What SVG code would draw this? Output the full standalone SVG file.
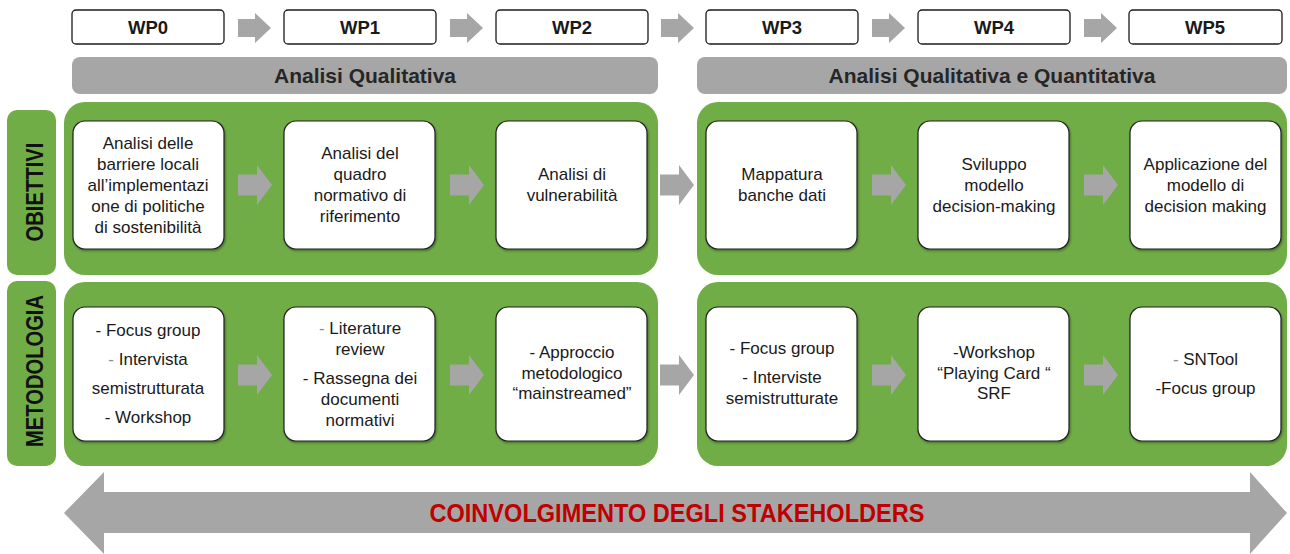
<svg xmlns="http://www.w3.org/2000/svg" width="1290" height="554" viewBox="0 0 1290 554">
<style>
.wp{fill:#fff;stroke:#1a1a1a;stroke-width:1.3}
.wpt{font-family:"Liberation Sans",Arial,sans-serif;font-weight:bold;font-size:18.5px;fill:#1a1a1a;text-anchor:middle}
.bar{fill:#A6A6A6}
.bart{font-family:"Liberation Sans",Arial,sans-serif;font-weight:bold;font-size:21px;fill:#262626;text-anchor:middle}
.grn{fill:#70AD47}
.lbl{font-family:"Liberation Sans",Arial,sans-serif;font-weight:bold;font-size:24px;fill:#111;text-anchor:middle}
.box{fill:#fff;stroke:#1f1f1f;stroke-width:1.2;filter:url(#sh)}
.t{font-family:"Liberation Sans",Arial,sans-serif;font-size:17px;fill:#1a1a1a;text-anchor:middle}
.d{fill:#8c8c8c}
.arr{fill:#A6A6A6}
.big{font-family:"Liberation Sans",Arial,sans-serif;font-weight:bold;font-size:26px;fill:#C00000;text-anchor:middle}
</style>
<defs>
<filter id="sh" x="-5%" y="-5%" width="115%" height="115%">
<feDropShadow dx="1" dy="1.5" stdDeviation="1" flood-color="#000" flood-opacity="0.35"/>
</filter>
<path id="a1" d="M0,-10.5 H19 V-20 L34,0 L19,20 V10.5 H0 Z"/>
<path id="a0" d="M0,-9 H17 V-15 L33,0 L17,15 V9 H0 Z"/>
</defs>

<g id="wp-row">
<g id="wp0"><rect class="wp" x="72" y="10" width="152" height="34" rx="4"/><text class="wpt" x="148" y="34">WP0</text></g>
<g id="wp1"><rect class="wp" x="284" y="10" width="152" height="34" rx="4"/><text class="wpt" x="360" y="34">WP1</text></g>
<g id="wp2"><rect class="wp" x="496" y="10" width="152" height="34" rx="4"/><text class="wpt" x="572" y="34">WP2</text></g>
<g id="wp3"><rect class="wp" x="706" y="10" width="152" height="34" rx="4"/><text class="wpt" x="782" y="34">WP3</text></g>
<g id="wp4"><rect class="wp" x="918" y="10" width="152" height="34" rx="4"/><text class="wpt" x="994" y="34">WP4</text></g>
<g id="wp5"><rect class="wp" x="1129" y="10" width="153" height="34" rx="4"/><text class="wpt" x="1205" y="34">WP5</text></g>
</g>

<g id="phase-qual"><rect class="bar" x="72" y="57" width="586" height="37" rx="8"/><text class="bart" x="365" y="83">Analisi Qualitativa</text></g>
<g id="phase-quant"><rect class="bar" x="697" y="57" width="590" height="37" rx="8"/><text class="bart" x="992" y="83">Analisi Qualitativa e Quantitativa</text></g>

<g id="label-obiettivi"><rect class="grn" x="7" y="110" width="49" height="165" rx="10"/><text class="lbl" transform="translate(43,192) rotate(-90)" x="0" y="0" textLength="99" lengthAdjust="spacingAndGlyphs">OBIETTIVI</text></g>
<g id="label-metodologia"><rect class="grn" x="7" y="281" width="49" height="185" rx="10"/><text class="lbl" transform="translate(43,371) rotate(-90)" x="0" y="0" textLength="152" lengthAdjust="spacingAndGlyphs">METODOLOGIA</text></g>

<g id="containers">
<rect class="grn" x="64" y="102" width="594" height="173" rx="21"/>
<rect class="grn" x="697" y="102" width="590" height="173" rx="21"/>
<rect class="grn" x="64" y="282" width="594" height="184" rx="21"/>
<rect class="grn" x="697" y="282" width="590" height="184" rx="21"/>
</g>

<g id="obj-wp0"><rect class="box" x="73" y="121" width="151" height="128" rx="12"/>
<text class="t"><tspan x="148" y="149">Analisi delle</tspan><tspan x="148" y="170">barriere locali</tspan><tspan x="148" y="191">all’implementazi</tspan><tspan x="148" y="212">one di politiche</tspan><tspan x="148" y="233">di sostenibilità</tspan></text></g>
<g id="obj-wp1"><rect class="box" x="284" y="121" width="151" height="128" rx="12"/>
<text class="t"><tspan x="360" y="159">Analisi del</tspan><tspan x="360" y="180">quadro</tspan><tspan x="360" y="201">normativo di</tspan><tspan x="360" y="222">riferimento</tspan></text></g>
<g id="obj-wp2"><rect class="box" x="496" y="121" width="151" height="128" rx="12"/>
<text class="t"><tspan x="572" y="180">Analisi di</tspan><tspan x="572" y="201">vulnerabilità</tspan></text></g>
<g id="obj-wp3"><rect class="box" x="706" y="121" width="151" height="128" rx="12"/>
<text class="t"><tspan x="782" y="180">Mappatura</tspan><tspan x="782" y="201">banche dati</tspan></text></g>
<g id="obj-wp4"><rect class="box" x="918" y="121" width="151" height="128" rx="12"/>
<text class="t"><tspan x="994" y="170">Sviluppo</tspan><tspan x="994" y="191">modello</tspan><tspan x="994" y="212">decision-making</tspan></text></g>
<g id="obj-wp5"><rect class="box" x="1130" y="121" width="151" height="128" rx="12"/>
<text class="t"><tspan x="1205.5" y="170">Applicazione del</tspan><tspan x="1205.5" y="191">modello di</tspan><tspan x="1205.5" y="212">decision making</tspan></text></g>

<g id="met-wp0"><rect class="box" x="73" y="307" width="151" height="134" rx="12"/>
<text class="t"><tspan x="148" y="336">- Focus group</tspan><tspan x="148" y="365"><tspan class="d">-</tspan> Intervista</tspan><tspan x="148" y="394">semistrutturata</tspan><tspan x="148" y="423">- Workshop</tspan></text></g>
<g id="met-wp1"><rect class="box" x="284" y="307" width="151" height="134" rx="12"/>
<text class="t"><tspan x="360" y="334"><tspan class="d">-</tspan> Literature</tspan><tspan x="360" y="355">review</tspan><tspan x="360" y="384">- Rassegna dei</tspan><tspan x="360" y="405">documenti</tspan><tspan x="360" y="426">normativi</tspan></text></g>
<g id="met-wp2"><rect class="box" x="496" y="307" width="151" height="134" rx="12"/>
<text class="t"><tspan x="572" y="358">- Approccio</tspan><tspan x="572" y="379">metodologico</tspan><tspan x="572" y="399">“mainstreamed”</tspan></text></g>
<g id="met-wp3"><rect class="box" x="706" y="307" width="151" height="134" rx="12"/>
<text class="t"><tspan x="782" y="354">- Focus group</tspan><tspan x="782" y="383">- Interviste</tspan><tspan x="782" y="404">semistrutturate</tspan></text></g>
<g id="met-wp4"><rect class="box" x="918" y="307" width="151" height="134" rx="12"/>
<text class="t"><tspan x="994" y="358">-Workshop</tspan><tspan x="994" y="379">“Playing Card “</tspan><tspan x="994" y="399">SRF</tspan></text></g>
<g id="met-wp5"><rect class="box" x="1130" y="307" width="151" height="134" rx="12"/>
<text class="t"><tspan x="1205.5" y="365"><tspan class="d">-</tspan> SNTool</tspan><tspan x="1205.5" y="394">-Focus group</tspan></text></g>

<g id="connectors" class="arr">
<use href="#a0" x="238" y="28"/>
<use href="#a0" x="450" y="28"/>
<use href="#a0" x="661" y="28"/>
<use href="#a0" x="872" y="28"/>
<use href="#a0" x="1084" y="28"/>
<use href="#a1" x="238" y="185"/>
<use href="#a1" x="450" y="185"/>
<use href="#a1" x="660" y="185"/>
<use href="#a1" x="872" y="185"/>
<use href="#a1" x="1084" y="185"/>
<use href="#a1" x="238" y="375"/>
<use href="#a1" x="450" y="375"/>
<use href="#a1" x="660" y="375"/>
<use href="#a1" x="872" y="375"/>
<use href="#a1" x="1084" y="375"/>
</g>

<g id="stakeholders">
<path class="arr" d="M64,513 L104,472 V492 H1250 V472 L1287,513 L1250,554 V533 H104 V554 Z"/>
<text class="big" x="677" y="522" textLength="495" lengthAdjust="spacingAndGlyphs">COINVOLGIMENTO DEGLI STAKEHOLDERS</text>
</g>
</svg>
